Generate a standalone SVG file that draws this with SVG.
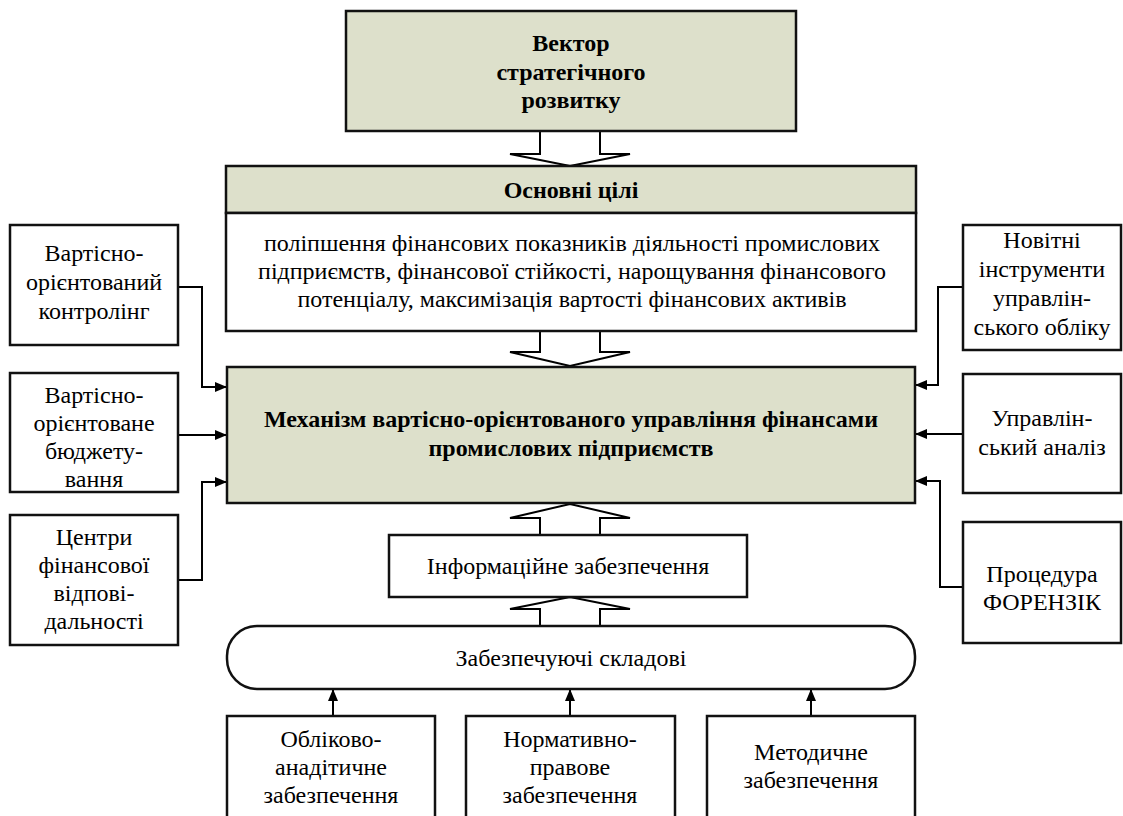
<svg xmlns="http://www.w3.org/2000/svg" width="1123" height="816" viewBox="0 0 1123 816">
<defs>
<marker id="ah" viewBox="0 0 12 10" refX="12" refY="5" markerWidth="12" markerHeight="10" markerUnits="userSpaceOnUse" orient="auto">
<path d="M0,0 L12,5 L0,10 Z" fill="#000"/>
</marker>
</defs>
<rect width="1123" height="816" fill="#fff"/>

<g id="connectors" fill="#fff" stroke="#000" stroke-width="2">
<path d="M540,131 V154 H510 L570,166 L630,154 H600 V131"/>
<path d="M540,331 V352 H510 L570,366 L630,352 H600 V331"/>
<path d="M540,535 V518 H510 L570,504 L630,518 H600 V535"/>
<path d="M540,626 V609 H510 L570,597 L630,609 H600 V626"/>
<path fill="none" d="M178,287 H202 V387 H227" marker-end="url(#ah)"/>
<path fill="none" d="M178,435 H227" marker-end="url(#ah)"/>
<path fill="none" d="M178,580 H202 V482 H227" marker-end="url(#ah)"/>
<path fill="none" d="M963,287 H938 V385 H915" marker-end="url(#ah)"/>
<path fill="none" d="M963,434 H915" marker-end="url(#ah)"/>
<path fill="none" d="M963,587 H940 V481 H915" marker-end="url(#ah)"/>
<path fill="none" d="M333,716 V689" marker-end="url(#ah)"/>
<path fill="none" d="M570,716 V689" marker-end="url(#ah)"/>
<path fill="none" d="M811,716 V689" marker-end="url(#ah)"/>
</g>

<g id="vector">
<rect x="346" y="11" width="450" height="120" fill="#dde0cb" stroke="#111" stroke-width="2.5"/>
<text x="571" y="51" text-anchor="middle" style="font-family:Liberation Serif,serif;font-size:24px;font-weight:bold">Вектор</text>
<text x="571" y="80" text-anchor="middle" style="font-family:Liberation Serif,serif;font-size:24px;font-weight:bold">стратегічного</text>
<text x="571" y="108" text-anchor="middle" style="font-family:Liberation Serif,serif;font-size:24px;font-weight:bold">розвитку</text>
</g>

<g id="goals">
<rect x="226" y="166" width="690" height="47" fill="#dde0cb" stroke="#111" stroke-width="2.5"/>
<text x="571" y="198" text-anchor="middle" style="font-family:Liberation Serif,serif;font-size:24px;font-weight:bold">Основні цілі</text>
<rect x="226" y="213" width="690" height="118" fill="#fff" stroke="#111" stroke-width="2.5"/>
<text x="572" y="251" text-anchor="middle" style="font-family:Liberation Serif,serif;font-size:24px">поліпшення фінансових показників діяльності промислових</text>
<text x="572" y="279" text-anchor="middle" style="font-family:Liberation Serif,serif;font-size:24px">підприємств, фінансової стійкості, нарощування фінансового</text>
<text x="572" y="307" text-anchor="middle" style="font-family:Liberation Serif,serif;font-size:24px">потенціалу, максимізація вартості фінансових активів</text>
</g>

<g id="mechanism">
<rect x="227" y="367" width="688" height="136" fill="#dde0cb" stroke="#111" stroke-width="2.5"/>
<text x="571" y="427" text-anchor="middle" style="font-family:Liberation Serif,serif;font-size:24px;font-weight:bold">Механізм вартісно-орієнтованого управління фінансами</text>
<text x="571" y="456" text-anchor="middle" style="font-family:Liberation Serif,serif;font-size:24px;font-weight:bold">промислових підприємств</text>
</g>

<g id="left1">
<rect x="10" y="225" width="168" height="120" fill="#fff" stroke="#111" stroke-width="2.5"/>
<text x="94" y="261" text-anchor="middle" style="font-family:Liberation Serif,serif;font-size:24px">Вартісно-</text>
<text x="94" y="290" text-anchor="middle" style="font-family:Liberation Serif,serif;font-size:24px">орієнтований</text>
<text x="94" y="319" text-anchor="middle" style="font-family:Liberation Serif,serif;font-size:24px">контролінг</text>
</g>
<g id="left2">
<rect x="10" y="373" width="168" height="119" fill="#fff" stroke="#111" stroke-width="2.5"/>
<text x="94" y="403" text-anchor="middle" style="font-family:Liberation Serif,serif;font-size:24px">Вартісно-</text>
<text x="94" y="431" text-anchor="middle" style="font-family:Liberation Serif,serif;font-size:24px">орієнтоване</text>
<text x="94" y="459" text-anchor="middle" style="font-family:Liberation Serif,serif;font-size:24px">бюджету-</text>
<text x="94" y="487" text-anchor="middle" style="font-family:Liberation Serif,serif;font-size:24px">вання</text>
</g>
<g id="left3">
<rect x="10" y="515" width="168" height="130" fill="#fff" stroke="#111" stroke-width="2.5"/>
<text x="94" y="545" text-anchor="middle" style="font-family:Liberation Serif,serif;font-size:24px">Центри</text>
<text x="94" y="573" text-anchor="middle" style="font-family:Liberation Serif,serif;font-size:24px">фінансової</text>
<text x="94" y="601" text-anchor="middle" style="font-family:Liberation Serif,serif;font-size:24px">відпові-</text>
<text x="94" y="629" text-anchor="middle" style="font-family:Liberation Serif,serif;font-size:24px">дальності</text>
</g>

<g id="right1">
<rect x="963" y="225" width="158" height="125" fill="#fff" stroke="#111" stroke-width="2.5"/>
<text x="1042" y="248" text-anchor="middle" style="font-family:Liberation Serif,serif;font-size:24px">Новітні</text>
<text x="1042" y="277" text-anchor="middle" style="font-family:Liberation Serif,serif;font-size:24px">інструменти</text>
<text x="1042" y="306" text-anchor="middle" style="font-family:Liberation Serif,serif;font-size:24px">управлін-</text>
<text x="1042" y="335" text-anchor="middle" style="font-family:Liberation Serif,serif;font-size:24px">ського обліку</text>
</g>
<g id="right2">
<rect x="963" y="374" width="158" height="119" fill="#fff" stroke="#111" stroke-width="2.5"/>
<text x="1042" y="426" text-anchor="middle" style="font-family:Liberation Serif,serif;font-size:24px">Управлін-</text>
<text x="1042" y="455" text-anchor="middle" style="font-family:Liberation Serif,serif;font-size:24px">ський аналіз</text>
</g>
<g id="right3">
<rect x="963" y="522" width="158" height="121" fill="#fff" stroke="#111" stroke-width="2.5"/>
<text x="1042" y="582" text-anchor="middle" style="font-family:Liberation Serif,serif;font-size:24px">Процедура</text>
<text x="1042" y="610" text-anchor="middle" style="font-family:Liberation Serif,serif;font-size:24px">ФОРЕНЗІК</text>
</g>

<g id="info">
<rect x="389" y="535" width="358" height="62" fill="#fff" stroke="#111" stroke-width="2.5"/>
<text x="568" y="574" text-anchor="middle" style="font-family:Liberation Serif,serif;font-size:24px">Інформаційне забезпечення</text>
</g>

<g id="support">
<rect x="227" y="626" width="688" height="63" rx="30" ry="30" fill="#fff" stroke="#111" stroke-width="2.5"/>
<text x="571" y="666" text-anchor="middle" style="font-family:Liberation Serif,serif;font-size:24px">Забезпечуючі складові</text>
</g>

<g id="bottom1">
<rect x="227" y="716" width="208" height="110" fill="#fff" stroke="#111" stroke-width="2.5"/>
<text x="331" y="747" text-anchor="middle" style="font-family:Liberation Serif,serif;font-size:24px">Обліково-</text>
<text x="331" y="775" text-anchor="middle" style="font-family:Liberation Serif,serif;font-size:24px">анадітичне</text>
<text x="331" y="803" text-anchor="middle" style="font-family:Liberation Serif,serif;font-size:24px">забезпечення</text>
</g>
<g id="bottom2">
<rect x="466" y="716" width="209" height="110" fill="#fff" stroke="#111" stroke-width="2.5"/>
<text x="570" y="747" text-anchor="middle" style="font-family:Liberation Serif,serif;font-size:24px">Нормативно-</text>
<text x="570" y="775" text-anchor="middle" style="font-family:Liberation Serif,serif;font-size:24px">правове</text>
<text x="570" y="803" text-anchor="middle" style="font-family:Liberation Serif,serif;font-size:24px">забезпечення</text>
</g>
<g id="bottom3">
<rect x="707" y="716" width="208" height="110" fill="#fff" stroke="#111" stroke-width="2.5"/>
<text x="811" y="760" text-anchor="middle" style="font-family:Liberation Serif,serif;font-size:24px">Методичне</text>
<text x="811" y="788" text-anchor="middle" style="font-family:Liberation Serif,serif;font-size:24px">забезпечення</text>
</g>
</svg>
